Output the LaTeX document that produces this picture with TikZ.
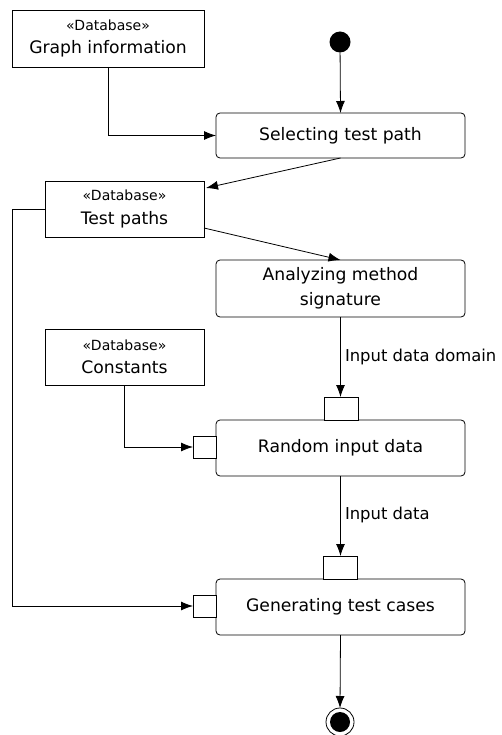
\documentclass[tikz,border=0pt]{standalone}
\usepackage{fontspec}
\setmainfont{DejaVu Sans}
\usetikzlibrary{arrows.meta,calc}
\begin{document}
\begin{tikzpicture}[x=1pt,y=-1pt,
  every node/.style={inner sep=0pt,outer sep=0pt},
  txt/.style={font=\fontsize{17.2}{20}\selectfont},
  lbl/.style={font=\fontsize{16.4}{20}\selectfont},
  dbbox/.style={draw,line width=0.8pt,rectangle,align=center,minimum width=#1},
  act/.style={draw,line width=0.8pt,rectangle,rounded corners=4pt,align=center,minimum width=249pt,txt},
  pin/.style={draw,line width=0.8pt,rectangle,fill=white},
  flow/.style={line width=0.8pt,-{Latex[length=12pt,width=9pt]}}]
\useasboundingbox (0,0) rectangle (502,735);
\fill[white] (0,0) rectangle (502,735);

% database boxes
\node[dbbox=192pt,minimum height=57pt] (graph) at (108,38.5) {{\fontsize{14}{17}\selectfont «Database»}\\[9pt]{\fontsize{17.2}{20}\selectfont Graph information}};
\node[dbbox=159pt,minimum height=56pt] (tp) at (124.5,209) {{\fontsize{14}{17}\selectfont «Database»}\\[9pt]{\fontsize{17.2}{20}\selectfont Test paths}};
\node[dbbox=159pt,minimum height=56pt] (con) at (124.5,357) {{\fontsize{14}{17}\selectfont «Database»}\\[9pt]{\fontsize{17.2}{20}\selectfont Constants}};

% initial node
\node[circle,fill=black,minimum size=21pt] (start) at (340,42) {};

% actions
\node[act,minimum height=45pt] (sel) at (340.5,135.5) {Selecting test path};
\node[act,minimum height=57pt] (ana) at (340.5,288.5) {Analyzing method\\[5pt]signature};
\node[act,minimum height=56pt] (rnd) at (340.5,448) {Random input data};
\node[act,minimum height=56pt] (gen) at (340.5,607) {Generating test cases};

% pins
\node[pin,minimum width=34pt,minimum height=23pt] (rndtop) at (341,408.5) {};
\node[pin,minimum width=23pt,minimum height=22pt] (rndleft) at (204.5,447) {};
\node[pin,minimum width=34pt,minimum height=23pt] (gentop) at (340,567.5) {};
\node[pin,minimum width=23pt,minimum height=22pt] (genleft) at (204.5,606) {};

% final node
\node[circle,draw,line width=0.8pt,minimum size=28pt] (end) at (340,722) {};
\node[circle,fill=black,minimum size=20pt] (endin) at (340,722) {};

% connectors
\draw[flow] (start) -- (sel.north);
\draw[flow] (graph.south) |- (sel.west);
\draw[flow] (sel.south) -- ($(tp.north east)+(2,7)$);
\draw[flow] ($(tp.south east)+(0,-9)$) -- (ana.north);
\draw[flow] (tp.west) -- ++(-33,0) |- (genleft.west);
\draw[flow] (con.south) |- (rndleft.west);
\draw[flow] (ana.south) -- (ana.south |- rndtop.north) coordinate (a1);
\draw[flow] (rnd.south) -- (rnd.south |- gentop.north) coordinate (a2);
\draw[flow] (gen.south) -- (end.north);

% labels
\node[lbl,anchor=west] (l1) at (345,357) {Input data domain};
\node[lbl,anchor=west] (l2) at (345,515) {Input data};
\end{tikzpicture}
\end{document}
